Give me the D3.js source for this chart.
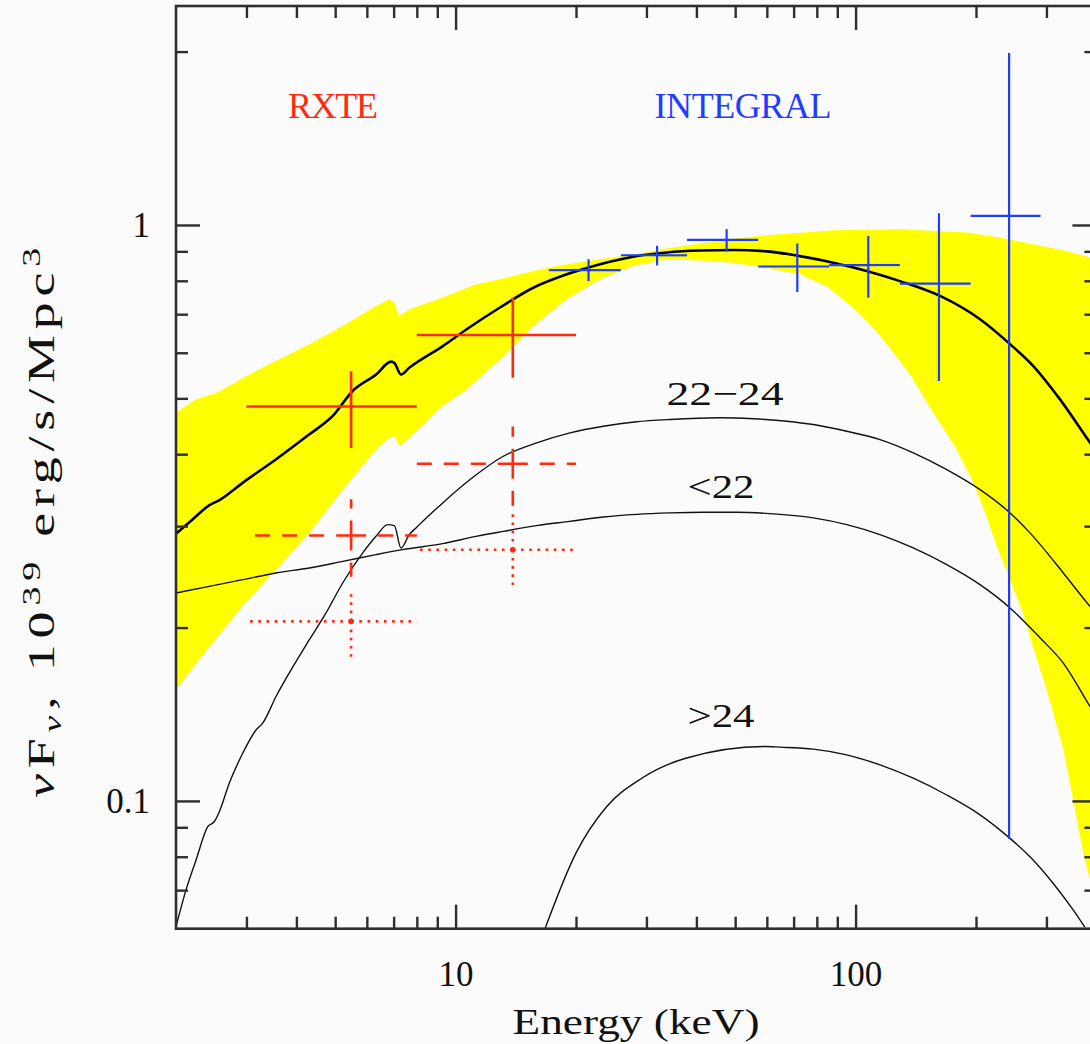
<!DOCTYPE html>
<html>
<head>
<meta charset="utf-8">
<script src="https://cdn.jsdelivr.net/npm/d3@7"></script>
<style>
  html, body { margin: 0; padding: 0; background: #fbfbfb; }
  svg { display: block; }
</style>
</head>
<body>
<div id="chart"></div>
<script>
// ---- Model curves: [energy keV, nuF_nu (1e39 erg/s/Mpc^3)] ----
const totalModel = [[2.0,0.291],[2.20,0.308],[2.42,0.326],[2.57,0.333],[2.94,0.357],[3.56,0.392],[4.31,0.433],[4.93,0.466],[5.53,0.515],[6.33,0.550],[6.90,0.579],[7.03,0.576],[7.30,0.550],[7.66,0.565],[9.29,0.616],[10.66,0.659],[12.91,0.719],[15.64,0.778],[18.96,0.821],[22.97,0.855],[27.81,0.881],[33.71,0.896],[40.83,0.903],[49.46,0.905],[59.95,0.900],[72.62,0.883],[87.98,0.860],[106.6,0.832],[129.1,0.799],[162.6,0.753],[204.7,0.686],[243.3,0.621],[278.2,0.569],[324.4,0.498],[385.5,0.419],[400,0.404]];

const nh22to24 = [[2.0,0.0605],[2.118,0.0700],[2.244,0.0789],[2.401,0.0902],[2.494,0.0921],[2.567,0.0958],[2.719,0.1074],[2.936,0.1210],[3.170,0.1328],[3.295,0.1365],[3.557,0.1518],[3.991,0.1746],[4.309,0.1905],[4.743,0.2120],[5.221,0.2390],[5.859,0.2695],[6.325,0.2880],[6.766,0.3018],[7.028,0.3006],[7.304,0.2749],[7.661,0.2900],[7.962,0.2979],[9.286,0.3292],[10.87,0.3614],[13.16,0.3967],[15.95,0.4185],[19.32,0.4356],[23.40,0.4473],[28.36,0.4553],[34.36,0.4595],[45.82,0.4627],[55.51,0.4608],[67.27,0.4564],[78.42,0.4503],[95.02,0.4384],[115.1,0.4240],[139.4,0.4021],[169.0,0.3761],[204.7,0.3471],[243.3,0.3163],[272.9,0.2920],[330.6,0.2488],[385.5,0.2177],[400,0.2114]];

const nhBelow22 = [[2.0,0.2296],[2.423,0.2358],[2.936,0.2422],[3.557,0.2488],[4.309,0.2538],[5.221,0.2606],[6.325,0.2677],[7.376,0.2731],[9.286,0.2797],[11.25,0.2880],[13.16,0.2938],[15.95,0.3006],[19.32,0.3058],[23.40,0.3112],[28.36,0.3145],[34.36,0.3163],[41.62,0.3171],[50.44,0.3171],[61.10,0.3154],[78.42,0.3100],[95.02,0.3018],[115.1,0.2900],[139.4,0.2749],[169.0,0.2572],[204.7,0.2374],[243.3,0.2163],[289.1,0.1920],[330.6,0.1735],[385.5,0.1459],[400,0.140]];

const nhAbove24 = [[16.73,0.0600],[19.98,0.0811],[23.85,0.0977],[29.21,0.1095],[37.61,0.1186],[59.30,0.1243],[64.72,0.1240],[78.42,0.1230],[95.02,0.1202],[115.1,0.1155],[139.4,0.1095],[169.0,0.1024],[204.7,0.0946],[243.3,0.0861],[272.9,0.0800],[312.1,0.0719],[350.3,0.0646],[374.5,0.0603]];

// ---- Allowed-model envelope (upper and lower boundaries) ----
const bandUpper = [[2.0,0.472],[2.244,0.498],[2.518,0.511],[3.110,0.554],[4.309,0.621],[5.221,0.668],[6.325,0.723],[6.828,0.743],[7.028,0.733],[7.233,0.695],[7.661,0.714],[9.286,0.748],[11.25,0.789],[12.91,0.805],[15.64,0.832],[18.96,0.855],[22.97,0.872],[27.81,0.889],[33.71,0.910],[40.83,0.929],[49.46,0.947],[59.95,0.960],[87.98,0.979],[129.1,0.983],[189.6,0.970],[229.7,0.951],[278.2,0.926],[337.2,0.901],[385.5,0.878],[400,0.870]];

const bandLower = [[2.0,0.156],[2.287,0.176],[2.423,0.185],[2.936,0.218],[3.557,0.252],[4.309,0.292],[5.221,0.347],[6.325,0.407],[6.828,0.427],[7.028,0.430],[7.261,0.413],[7.661,0.427],[9.286,0.485],[10.66,0.518],[12.91,0.584],[15.64,0.668],[18.96,0.743],[22.97,0.805],[27.81,0.849],[33.71,0.872],[40.83,0.868],[49.46,0.860],[59.95,0.842],[72.62,0.821],[84.70,0.782],[93.00,0.743],[105.6,0.686],[117.1,0.633],[136.8,0.550],[156.1,0.473],[177.3,0.412],[195.5,0.361],[210.7,0.317],[225.7,0.276],[243.3,0.242],[262.1,0.212],[277.7,0.185],[300.5,0.156],[330.6,0.123],[350.3,0.100],[370.9,0.081],[385.5,0.073],[400,0.066]];

// ---- RXTE points (two energy bins) ----
const rxteE   = [5.48, 13.9];
const rxteELo = [3, 8];
const rxteEHi = [8, 20];
const rxteAll      = [0.484, 0.644];
const rxteAllLo    = [0.410, 0.543];
const rxteAllHi    = [0.557, 0.748];
const rxteMid      = [0.289, 0.385];
const rxteMidLo    = [0.245, 0.324];
const rxteMidHi    = [0.334, 0.447];
const rxteLow      = [0.205, 0.273];
const rxteLowLo    = [0.175, 0.233];
const rxteLowHi    = [0.233, 0.317];

// ---- INTEGRAL points ----
const intE   = [21.5, 31.9, 47.6, 71.5, 107.6, 161.6, 242];
const intELo = [17.1, 25.9, 37.9, 57.1, 85.9, 129, 194];
const intEHi = [25.9, 37.9, 57.1, 85.9, 129, 194, 290];
const intV   = [0.835, 0.886, 0.942, 0.847, 0.852, 0.791, 1.037];
const intVLo = [0.799, 0.851, 0.899, 0.765, 0.748, 0.536, 0.086];
const intVHi = [0.872, 0.920, 0.983, 0.929, 0.957, 1.048, 1.988];

// ---- Ticks ----
const xMajorTicks = [10, 100];
const xMinorTicks = [3,4,5,6,7,8,9,20,30,40,50,60,70,80,90,200,300];
const yMajorTicks = [0.1, 1];
const yMinorTicks = [0.07,0.08,0.09,0.2,0.3,0.4,0.5,0.6,0.7,0.8,0.9,2];

const W = 1090, H = 1044;
const pL = 176, pR = 1096.4, pT = 6, pB = 928.7;

const RED = "#ff2a10", BLUE = "#1f3cff", YELLOW = "#ffff00", INK = "#2e2e2e";
const FONT = "'Liberation Serif', 'DejaVu Serif', serif";

const x = d3.scaleLog().domain([2, 400]).range([pL, pR]);
const y = d3.scaleLog().domain([0.06, 2.4]).range([pB, pT]);

const svg = d3.select("#chart").append("svg")
  .attr("width", W).attr("height", H)
  .attr("viewBox", `0 0 ${W} ${H}`);

svg.append("rect").attr("width", W).attr("height", H).attr("fill", "#fbfbfb");

svg.append("clipPath").attr("id", "plot-clip")
  .append("rect").attr("x", pL).attr("y", pT)
  .attr("width", pR - pL).attr("height", pB - pT);

const plot = svg.append("g").attr("clip-path", "url(#plot-clip)");

// envelope
const polyLine = d3.line().x(d => x(d[0])).y(d => y(d[1]));
plot.append("path")
  .attr("d", polyLine(bandUpper.concat(bandLower.slice().reverse())) + "Z")
  .attr("fill", YELLOW).attr("stroke", "none");

// model curves
const curve = d3.line().x(d => x(d[0])).y(d => y(d[1])).curve(d3.curveMonotoneX);
[nh22to24, nhBelow22, nhAbove24].forEach(c => {
  plot.append("path").attr("d", curve(c))
    .attr("fill", "none").attr("stroke", "#111").attr("stroke-width", 1.4);
});
plot.append("path").attr("d", curve(totalModel))
  .attr("fill", "none").attr("stroke", "#000").attr("stroke-width", 2.6);

// error crosses, each arm drawn outward from the centre
function cross(g, e, eLo, eHi, v, vLo, vHi, color, width, dash) {
  const cx = x(e), cy = y(v);
  const arms = [[x(eLo), cy], [x(eHi), cy], [cx, y(vLo)], [cx, y(vHi)]];
  arms.forEach(([ex, ey]) => {
    g.append("line")
      .attr("x1", cx).attr("y1", cy).attr("x2", ex).attr("y2", ey)
      .attr("stroke", color).attr("stroke-width", width)
      .attr("stroke-dasharray", dash || null);
  });
}

rxteE.forEach((e, i) => {
  cross(plot, e, rxteELo[i], rxteEHi[i], rxteLow[i], rxteLowLo[i], rxteLowHi[i], RED, 2.6, "2.6,5.6");
  plot.append("circle").attr("cx", x(e)).attr("cy", y(rxteLow[i])).attr("r", 2.8).attr("fill", RED);
  cross(plot, e, rxteELo[i], rxteEHi[i], rxteMid[i], rxteMidLo[i], rxteMidHi[i], RED, 2.6, "15,12");
  cross(plot, e, rxteELo[i], rxteEHi[i], rxteAll[i], rxteAllLo[i], rxteAllHi[i], RED, 2.6, null);
});

intE.forEach((e, i) => {
  cross(plot, e, intELo[i], intEHi[i], intV[i], intVLo[i], intVHi[i], BLUE, 2.2, null);
});

// frame and ticks
svg.append("rect").attr("x", pL).attr("y", pT)
  .attr("width", pR - pL).attr("height", pB - pT)
  .attr("fill", "none").attr("stroke", INK).attr("stroke-width", 2.6);

function addAxis(gen, tx, ty, values, size, fmt, padding) {
  const g = svg.append("g").attr("transform", `translate(${tx},${ty})`)
    .call(gen.tickValues(values).tickSize(size).tickSizeOuter(0)
      .tickFormat(fmt).tickPadding(padding || 3));
  g.select(".domain").remove();
  g.selectAll(".tick line").attr("stroke", INK).attr("stroke-width", 2.4);
  g.selectAll("text").attr("fill", "#111").attr("font-family", FONT).attr("font-size", 35);
  return g;
}
const none = () => "";
addAxis(d3.axisBottom(x), 0, pB, xMajorTicks, -24, d3.format("d"), 32);
addAxis(d3.axisBottom(x), 0, pB, xMinorTicks, -12, none);
addAxis(d3.axisTop(x), 0, pT, xMajorTicks, -24, none);
addAxis(d3.axisTop(x), 0, pT, xMinorTicks, -12, none);
addAxis(d3.axisLeft(y), pL, 0, yMajorTicks, -24, d3.format("~g"), 26);
addAxis(d3.axisLeft(y), pL, 0, yMinorTicks, -12, none);
addAxis(d3.axisRight(y), pR, 0, yMajorTicks, -24, none);
addAxis(d3.axisRight(y), pR, 0, yMinorTicks, -12, none);

// instrument labels
svg.append("text").attr("x", 333).attr("y", 118).attr("text-anchor", "middle")
  .attr("font-family", FONT).attr("font-size", 36).attr("fill", RED)
  .attr("textLength", 90).text("RXTE");
svg.append("text").attr("x", 743).attr("y", 118).attr("text-anchor", "middle")
  .attr("font-family", FONT).attr("font-size", 36).attr("fill", BLUE)
  .attr("textLength", 177).text("INTEGRAL");

// component labels
const compLabels = [
  {t: "22\u221224", cx: 725, by: 405, w: 117},
  {t: "<22", cx: 721, by: 498, w: 67},
  {t: ">24", cx: 721, by: 727, w: 67}
];
compLabels.forEach(l => {
  svg.append("text").attr("x", l.cx).attr("y", l.by).attr("text-anchor", "middle")
    .attr("font-family", FONT).attr("font-size", 34).attr("fill", "#111")
    .attr("textLength", l.w).attr("lengthAdjust", "spacingAndGlyphs").text(l.t);
});

// axis titles
svg.append("text").attr("x", 636).attr("y", 1034).attr("text-anchor", "middle")
  .attr("font-family", FONT).attr("font-size", 35).attr("fill", "#111")
  .attr("textLength", 247).attr("lengthAdjust", "spacingAndGlyphs")
  .text("Energy (keV)");

const yt = svg.append("text")
  .attr("transform", "translate(54,520) rotate(-90)")
  .attr("text-anchor", "middle")
  .attr("font-family", FONT).attr("font-size", 37).attr("fill", "#111")
  .attr("letter-spacing", 4)
  .attr("textLength", 556).attr("lengthAdjust", "spacingAndGlyphs");
yt.append("tspan").attr("font-style", "italic").text("\u03bd");
yt.append("tspan").text("F");
yt.append("tspan").attr("font-size", 26).attr("font-style", "italic").attr("dy", 7).text("\u03bd");
yt.append("tspan").attr("dy", -7).text(", 10");
yt.append("tspan").attr("font-size", 26).attr("dy", -14).text("39");
yt.append("tspan").attr("dy", 14).text(" erg/s/Mpc");
yt.append("tspan").attr("font-size", 26).attr("dy", -14).text("3");
</script>
</body>
</html>
